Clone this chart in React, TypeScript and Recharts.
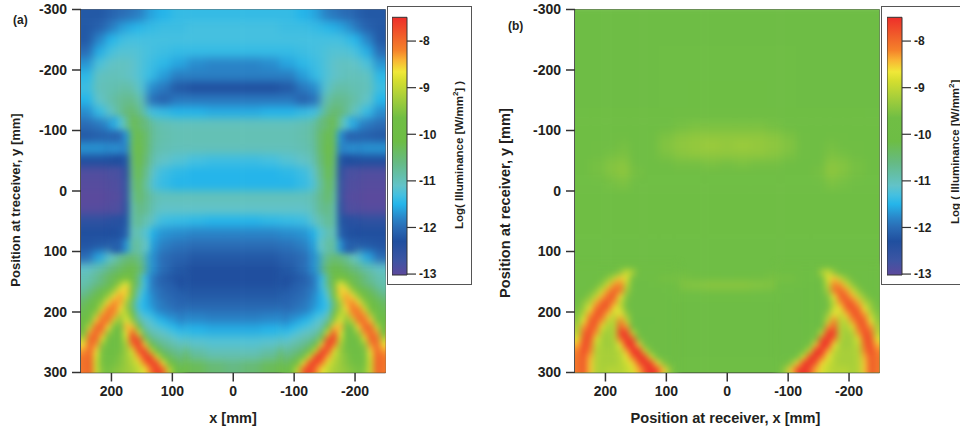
import { Bar, BarChart, ReferenceArea, Scatter, ScatterChart, XAxis, YAxis } from "recharts";

// log10 illuminance. The maps are mirror images about x = 0,
// so only the x >= 0 half is listed. Coarse grid for the whole map, finer ones for the neck and the arcs.
const X_TICKS = [200, 100, 0, -100, -200];
const Y_TICKS = [-300, -200, -100, 0, 100, 200, 300];
const BAR_TICKS = [-13, -12, -11, -10, -9, -8];

const A_COLS = [240, 220, 200, 188, 176, 168, 160, 150, 135, 115, 90, 60, 30, 0];
const A_ROWS = [-290, -270, -250, -230, -210, -190, -170, -150, -130, -110, -90, -70, -50, -30, -10, 10, 30, 50, 70, 90, 110, 130, 150, 170, 190, 210, 230, 250, 270, 290];
const A_VALUES = [
  [-12.2, -12.2, -12.1, -12, -12, -11.9, -11.9, -11.8, -11.6, -11.5, -11.4, -11.4, -11.4, -11.4],
  [-12.2, -12.1, -11.9, -11.7, -11.6, -11.55, -11.5, -11.45, -11.4, -11.35, -11.35, -11.3, -11.3, -11.3],
  [-12.2, -11.8, -11.5, -11.4, -11.3, -11.3, -11.3, -11.3, -11.3, -11.3, -11.3, -11.3, -11.3, -11.3],
  [-12, -11.55, -11.3, -11.2, -11.2, -11.2, -11.2, -11.25, -11.3, -11.35, -11.4, -11.4, -11.4, -11.4],
  [-11.7, -11.25, -11.1, -11.05, -11.05, -11.1, -11.15, -11.25, -11.35, -11.45, -11.6, -11.75, -11.8, -11.8],
  [-11.45, -11.05, -11, -11, -11.05, -11.1, -11.15, -11.25, -11.4, -11.65, -11.85, -11.85, -11.85, -11.85],
  [-11.35, -11, -10.95, -10.9, -10.85, -10.9, -11, -11.2, -11.75, -11.9, -12.2, -12.3, -12.3, -12.3],
  [-11.5, -11.1, -10.9, -10.75, -10.7, -10.65, -10.75, -11, -11.95, -12.1, -11.9, -11.9, -11.9, -11.9],
  [-11.75, -11.4, -11.1, -10.8, -10.55, -10.45, -10.5, -10.8, -11.3, -11.4, -11.5, -11.5, -11.55, -11.55],
  [-12, -11.9, -11.7, -11.3, -10.8, -10.3, -10.3, -10.55, -10.8, -10.95, -11, -11, -11, -11],
  [-12.2, -12.15, -12.1, -12, -11.7, -10.5, -10.15, -10.4, -10.75, -10.9, -10.95, -10.95, -10.95, -10.95],
  [-11.7, -11.7, -11.75, -11.8, -11.8, -10.6, -10.05, -10.4, -10.8, -10.95, -11, -11, -11, -11],
  [-12.3, -12.3, -12.3, -12.3, -12.2, -10.7, -10.1, -10.5, -10.9, -11.1, -11.2, -11.3, -11.35, -11.35],
  [-12.9, -12.9, -12.85, -12.8, -12.5, -10.9, -10.2, -10.6, -11.1, -11.35, -11.45, -11.5, -11.5, -11.5],
  [-12.95, -12.95, -12.9, -12.85, -12.6, -11, -10.3, -10.7, -11.2, -11.4, -11.5, -11.5, -11.5, -11.5],
  [-13, -13, -12.95, -12.9, -12.6, -11, -10.4, -10.6, -10.9, -11, -11, -11, -11, -11],
  [-12.95, -12.95, -12.9, -12.85, -12.5, -11, -10.6, -10.65, -10.95, -11.1, -11.1, -11.1, -11.1, -11.1],
  [-12.5, -12.5, -12.45, -12.4, -12.2, -11, -10.7, -10.85, -11.1, -11.35, -11.4, -11.45, -11.5, -11.5],
  [-12.3, -12.3, -12.3, -12.25, -12.1, -11.2, -10.9, -11.1, -11.5, -11.7, -11.75, -11.8, -11.8, -11.8],
  [-12.25, -12.2, -12.15, -12.1, -11.7, -10.9, -10.8, -11, -11.6, -11.85, -11.95, -12, -12, -12],
  [-12, -11.6, -11.1, -10.8, -10.6, -10.5, -10.5, -10.8, -11.7, -12, -12.1, -12.2, -12.2, -12.2],
  [-11.1, -10.9, -10.6, -10.4, -10.25, -10.2, -10.2, -10.6, -11.7, -12, -12.2, -12.3, -12.3, -12.3],
  [-10.9, -10.6, -10.3, -10.1, -9.6, -10, -10.2, -11, -11.8, -12.1, -12.2, -12.3, -12.3, -12.3],
  [-10.6, -10.1, -9.4, -8.9, -9.4, -10, -11, -11.5, -11.8, -12, -12.15, -12.2, -12.2, -12.2],
  [-10.2, -9.2, -8.4, -9, -9.6, -10.5, -11.3, -11.5, -11.75, -11.9, -12, -12.05, -12.05, -12.05],
  [-9.5, -8.2, -9, -9.6, -9.1, -10, -10.8, -11.1, -11.3, -11.6, -11.75, -11.8, -11.85, -11.85],
  [-8.4, -8.8, -10, -10, -8.9, -9, -9.4, -10.6, -10.9, -11.2, -11.4, -11.5, -11.55, -11.55],
  [-8.1, -9.5, -10, -9.9, -9.2, -8.3, -8, -8.6, -10, -10.7, -11, -11.15, -11.2, -11.2],
  [-8.2, -9.6, -9.8, -9.6, -9.2, -9, -8.8, -8.2, -8, -9.6, -10.3, -10.8, -10.95, -10.95],
  [-8.2, -9.5, -9.7, -9.5, -9.4, -9.3, -9.2, -9.1, -8.8, -8.2, -9.7, -10.3, -10.5, -10.6],
];

const NECK_COLS = [195, 185, 175, 165, 155, 145];
const NECK_ROWS = [-110, -90, -70, -50, -30, -10, 10, 30, 50, 70, 90];
const NECK_VALUES = [
  [-11.6, -11.2, -10.8, -10.3, -10.4, -10.6],
  [-12.1, -12, -11.7, -10.4, -10.2, -10.45],
  [-11.75, -11.8, -11.8, -10.4, -10.05, -10.45],
  [-12.3, -12.3, -12.2, -10.5, -10.1, -10.55],
  [-12.85, -12.8, -12.5, -10.6, -10.2, -10.7],
  [-12.9, -12.85, -12.6, -10.7, -10.3, -10.8],
  [-12.95, -12.9, -12.6, -10.8, -10.4, -10.7],
  [-12.9, -12.85, -12.5, -10.9, -10.6, -10.75],
  [-12.45, -12.4, -12.2, -10.9, -10.7, -10.95],
  [-12.3, -12.25, -12.1, -11, -10.9, -11.2],
  [-12.15, -12.1, -11.7, -10.85, -10.8, -11.1],
];

const ARC_COLS = [245, 235, 225, 215, 205, 195, 185, 175, 165, 155, 145, 135, 125, 115, 105, 95, 85];
const A_ARC_ROWS = [145, 155, 165, 175, 185, 195, 205, 215, 225, 235, 245, 255, 265, 275, 285, 295];
const A_ARC_VALUES = [
  [-11, -10.9, -10.8, -10.6, -10.4, -10.3, -10.1, -9.6, -10, -10.6, -11.4, -11.8, -12, -12.1, -12.2, -12.25, -12.3],
  [-10.9, -10.8, -10.6, -10.5, -10.3, -10, -9.2, -8.7, -9.6, -10.6, -11.3, -11.8, -12, -12.1, -12.1, -12.2, -12.3],
  [-10.8, -10.6, -10.4, -10.2, -9.9, -9.3, -8.6, -8.5, -9.6, -10.9, -11.4, -11.8, -11.9, -12, -12.1, -12.1, -12.2],
  [-10.6, -10.4, -10.2, -9.9, -9.3, -8.6, -8.3, -8.8, -10.1, -11.1, -11.5, -11.7, -11.9, -12, -12, -12.1, -12.1],
  [-10.4, -10.2, -9.9, -9.4, -8.6, -8.2, -8.4, -9.2, -10.5, -11.3, -11.5, -11.7, -11.8, -11.9, -12, -12, -12.1],
  [-10.3, -10.1, -9.7, -8.9, -8.2, -8.1, -8.6, -9.3, -10.4, -11.3, -11.5, -11.6, -11.8, -11.9, -11.9, -12, -12],
  [-10.2, -9.9, -9.2, -8.3, -8, -8.3, -9.1, -9, -10, -11, -11.3, -11.4, -11.6, -11.7, -11.8, -11.8, -11.9],
  [-10.1, -9.6, -8.5, -8, -8.1, -9, -9.5, -8.7, -9.4, -10.7, -11.1, -11.2, -11.4, -11.5, -11.6, -11.7, -11.8],
  [-10, -9, -8, -7.9, -8.6, -9.6, -9.7, -8.4, -8.5, -10.1, -10.9, -11.1, -11.2, -11.3, -11.4, -11.5, -11.6],
  [-9.6, -8.3, -7.9, -8.3, -9.3, -9.9, -9.7, -8.7, -7.8, -8.9, -10.5, -10.9, -11, -11.1, -11.2, -11.3, -11.4],
  [-9.1, -8, -7.9, -8.8, -9.7, -9.9, -9.7, -8.9, -7.6, -7.9, -9.5, -10.6, -10.8, -10.9, -11, -11.1, -11.2],
  [-8.6, -7.9, -8.3, -9.4, -9.9, -9.9, -9.7, -9.2, -8.2, -7.5, -8.5, -10, -10.5, -10.7, -10.8, -10.9, -11],
  [-8.3, -7.9, -8.6, -9.6, -9.8, -9.8, -9.6, -9.3, -8.8, -7.8, -7.6, -8.9, -10, -10.4, -10.6, -10.7, -10.8],
  [-8.1, -7.9, -8.8, -9.6, -9.7, -9.7, -9.5, -9.3, -9, -8.4, -7.6, -7.6, -8.8, -9.9, -10.3, -10.5, -10.6],
  [-8.1, -7.9, -8.9, -9.6, -9.7, -9.6, -9.5, -9.3, -9.1, -8.8, -8.2, -7.6, -7.7, -8.7, -9.8, -10.2, -10.4],
  [-8.1, -7.9, -8.9, -9.5, -9.6, -9.5, -9.4, -9.3, -9.2, -9, -8.7, -8.1, -7.6, -7.9, -9, -9.8, -10.2],
];

const B_COLS = [240, 210, 190, 170, 150, 125, 100, 75, 50, 25, 0];
const B_ROWS = [-270, -210, -150, -125, -105, -90, -75, -60, -45, -30, -15, 10, 50, 100, 125, 145, 155, 170, 200, 250, 290];
const B_VALUES = [
  [-9.95, -9.95, -9.95, -9.95, -9.95, -9.95, -9.95, -9.95, -9.95, -9.95, -9.95],
  [-9.95, -9.95, -9.95, -9.95, -9.95, -9.95, -9.9, -9.9, -9.9, -9.9, -9.9],
  [-9.95, -9.95, -9.95, -9.95, -9.95, -9.95, -9.9, -9.9, -9.85, -9.85, -9.85],
  [-9.9, -9.85, -9.85, -9.85, -9.85, -9.8, -9.75, -9.7, -9.7, -9.65, -9.65],
  [-9.85, -9.8, -9.75, -9.75, -9.8, -9.75, -9.65, -9.6, -9.55, -9.55, -9.55],
  [-9.85, -9.75, -9.7, -9.7, -9.8, -9.7, -9.55, -9.45, -9.4, -9.4, -9.4],
  [-9.85, -9.7, -9.65, -9.6, -9.8, -9.65, -9.5, -9.4, -9.35, -9.3, -9.35],
  [-9.8, -9.7, -9.6, -9.55, -9.75, -9.65, -9.55, -9.45, -9.4, -9.4, -9.4],
  [-9.75, -9.6, -9.5, -9.45, -9.65, -9.8, -9.7, -9.6, -9.6, -9.55, -9.6],
  [-9.7, -9.6, -9.5, -9.4, -9.6, -9.8, -9.75, -9.7, -9.65, -9.65, -9.7],
  [-9.8, -9.65, -9.6, -9.55, -9.7, -9.85, -9.8, -9.75, -9.75, -9.75, -9.75],
  [-9.85, -9.85, -9.85, -9.85, -9.85, -9.85, -9.85, -9.85, -9.85, -9.85, -9.85],
  [-9.85, -9.85, -9.85, -9.85, -9.85, -9.85, -9.85, -9.85, -9.85, -9.85, -9.85],
  [-9.9, -9.9, -9.9, -9.9, -9.9, -9.9, -9.9, -9.9, -9.9, -9.9, -9.9],
  [-9.9, -9.9, -9.9, -9.9, -9.9, -9.9, -9.9, -9.9, -9.9, -9.9, -9.9],
  [-9.9, -9.9, -9.9, -9.9, -9.9, -9.9, -9.6, -9.6, -9.7, -9.85, -9.9],
  [-9.9, -9.9, -9.9, -9.9, -9.9, -9.9, -9.75, -9.5, -9.45, -9.4, -9.4],
  [-9.9, -9.9, -9.9, -9.9, -9.95, -9.95, -9.9, -9.9, -9.9, -9.85, -9.85],
  [-9.9, -9.9, -9.9, -9.95, -10, -10, -10, -9.95, -9.95, -9.95, -9.95],
  [-9.9, -9.9, -9.9, -9.95, -10, -10, -10, -10, -9.95, -9.95, -9.95],
  [-9.9, -9.9, -9.9, -9.9, -9.9, -9.9, -9.9, -9.9, -9.9, -9.9, -9.9],
];
const B_ARC_ROWS = [125, 135, 145, 155, 165, 175, 185, 195, 205, 215, 225, 235, 245, 255, 265, 275, 285, 295];
const B_ARC_VALUES = [
  [-9.9, -9.9, -9.9, -9.9, -9.9, -9.9, -9.85, -9.8, -9.7, -9.7, -9.85, -9.9, -9.9, -9.9, -9.85, -9.85, -9.85],
  [-9.9, -9.9, -9.9, -9.9, -9.85, -9.8, -9.7, -9.4, -8.9, -9.2, -9.8, -9.9, -9.9, -9.85, -9.8, -9.8, -9.7],
  [-9.9, -9.9, -9.9, -9.8, -9.7, -9.4, -9, -8.5, -8.8, -9.6, -9.9, -9.9, -9.85, -9.7, -9.6, -9.6, -9.6],
  [-9.9, -9.9, -9.8, -9.7, -9.4, -8.9, -8.3, -8.2, -9, -9.8, -9.95, -9.95, -9.9, -9.85, -9.8, -9.75, -9.65],
  [-9.9, -9.8, -9.7, -9.4, -8.9, -8.3, -7.9, -8.1, -9.2, -9.9, -10, -10, -9.95, -9.95, -9.9, -9.9, -9.85],
  [-9.8, -9.7, -9.4, -9, -8.4, -7.9, -7.9, -8.7, -9.5, -9.95, -10, -10, -10, -10, -9.95, -9.95, -9.9],
  [-9.7, -9.4, -9.1, -8.4, -7.9, -7.8, -8.3, -9, -9.6, -10, -10, -10, -10, -10, -10, -9.95, -9.95],
  [-9.6, -9.3, -8.7, -8, -7.8, -8, -8.7, -8.9, -9.6, -10, -10, -10, -10, -10, -10, -10, -10],
  [-9.5, -9, -8.3, -7.8, -7.9, -8.5, -9, -8.6, -9.3, -10, -10.05, -10.05, -10, -10, -10, -10, -10],
  [-9.4, -8.7, -7.9, -7.8, -8.3, -9, -9.1, -8.2, -9, -9.9, -10.1, -10.1, -10.1, -10.05, -10, -10, -10],
  [-9.2, -8.3, -7.8, -8, -8.8, -9.2, -9.1, -7.9, -8.3, -9.7, -10, -10.1, -10.05, -10.05, -10, -10, -10],
  [-9.1, -8, -7.7, -8.3, -9.1, -9.3, -9.1, -7.6, -7.6, -9, -9.9, -10, -10.05, -10, -10, -10, -10],
  [-8.8, -7.8, -7.8, -8.8, -9.2, -9.3, -9.1, -8.1, -7.5, -7.9, -9.5, -9.9, -10, -10, -10, -10, -10],
  [-8.4, -7.7, -8, -9, -9.2, -9.3, -9.2, -8.7, -7.6, -7.5, -8.5, -9.6, -9.9, -10, -10, -10, -10],
  [-8.2, -7.7, -8.2, -9.1, -9.2, -9.2, -9.2, -9, -8.4, -7.5, -7.5, -8.9, -9.6, -9.9, -10, -10, -10],
  [-8.1, -7.8, -8.4, -9.1, -9.2, -9.2, -9.2, -9.1, -8.7, -8.1, -7.5, -7.6, -8.8, -9.6, -9.9, -10, -10],
  [-8.1, -7.8, -8.5, -9.1, -9.2, -9.2, -9.2, -9.1, -8.9, -8.6, -7.9, -7.5, -7.6, -8.6, -9.4, -9.8, -9.9],
  [-8.1, -7.8, -8.5, -9.1, -9.2, -9.1, -9.1, -9.1, -9, -8.8, -8.4, -7.8, -7.5, -7.7, -8.5, -9.3, -9.7],
];

const COLOR_LEVELS = [-13, -12.7, -12.3, -12, -11.8, -11.5, -11.3, -11.1, -10.6, -10.15, -9.65, -9.2, -8.85, -8.66, -8.4, -8.2, -7.9, -7.49];
const COLOR_VALUES = ["#5b4a9d", "#3c55a3", "#204f9f", "#2a6cb5", "#2a85c8", "#25b5ea", "#45c0e0", "#62c3c8", "#66ba82", "#6dbd45", "#70be44", "#a8cf3a", "#d5de2f", "#f0e838", "#f9b233", "#f5822a", "#f05f2a", "#ee2e2a"];

const FONT = "Liberation Sans";
const INK = "#231f20";
const PLOT_W = 304.5;
const PLOT_H = 363;
const BAR_DOMAIN: [number, number] = [-13.02, -7.49];

type HeatCell = { x: number; y: number; v: number; xLo: number; xHi: number; yLo: number; yHi: number };

function hexRgb(hex: string) {
  return [1, 3, 5].map((i) => parseInt(hex.slice(i, i + 2), 16));
}

function colorFor(v: number) {
  if (v <= COLOR_LEVELS[0]) return COLOR_VALUES[0];
  for (let i = 1; i < COLOR_LEVELS.length; i++) {
    if (v <= COLOR_LEVELS[i]) {
      const t = (v - COLOR_LEVELS[i - 1]) / (COLOR_LEVELS[i] - COLOR_LEVELS[i - 1]);
      const a = hexRgb(COLOR_VALUES[i - 1]);
      const b = hexRgb(COLOR_VALUES[i]);
      return `rgb(${a.map((c, k) => Math.round(c + (b[k] - c) * t)).join(",")})`;
    }
  }
  return COLOR_VALUES[COLOR_VALUES.length - 1];
}

// turns a listed half map into mirrored cells, each cell spanning halfway to its neighbours.
// grids that reach the plot edge get their outer cells stretched so the blur doesn't fade there
function buildCells(cols: number[], rows: number[], values: number[][], reachesEdge = true) {
  const cells: HeatCell[] = [];
  const rowPad = Math.abs(rows[1] - rows[0]) / 2;
  const colPad = Math.abs(cols[1] - cols[0]) / 2;
  rows.forEach((y, r) => {
    const yLo = r === 0 ? (y < -260 ? y - 40 : y - rowPad) : (y + rows[r - 1]) / 2;
    const yHi = r === rows.length - 1 ? (reachesEdge ? y + 40 : y + rowPad) : (y + rows[r + 1]) / 2;
    cols.forEach((x, c) => {
      const xHi = c === 0 ? (reachesEdge ? x + 40 : x + colPad) : (x + cols[c - 1]) / 2;
      const xLo = c === cols.length - 1 ? (x === 0 ? -xHi : x - colPad) : (x + cols[c + 1]) / 2;
      const v = values[r][c];
      cells.push({ x, y, v, xLo, xHi, yLo, yHi });
      if (x !== 0) cells.push({ x: -x, y, v, xLo: -xHi, xHi: -xLo, yLo, yHi });
    });
  });
  return cells;
}

const HeatRect = (props: any) => {
  const { cx, cy, payload } = props;
  const kx = PLOT_W / 500;
  const ky = PLOT_H / 600;
  return (
    <rect
      x={cx - (payload.xHi - payload.x) * kx - 0.3}
      y={cy - (payload.y - payload.yLo) * ky - 0.3}
      width={(payload.xHi - payload.xLo) * kx + 0.6}
      height={(payload.yHi - payload.yLo) * ky + 0.6}
      fill={colorFor(payload.v)}
    />
  );
};

type MapProps = {
  id: string;
  left: number;
  cells: HeatCell[];
  arcCells: HeatCell[];
  panel: string;
  panelX: number;
  panelY: number;
  xTitle: string;
  xTitleX: number;
  xTitleSize: number;
  yTitle: string;
  yTitleX: number;
  yTitleY: number;
  yTitleSize: number;
};

const MapPanel = ({ id, left, cells, arcCells, panel, panelX, panelY, xTitle, xTitleX, xTitleSize, yTitle, yTitleX, yTitleY, yTitleSize }: MapProps) => (
  <div style={{ position: "absolute", left, top: 0 }}>
    <ScatterChart width={387} height={430} margin={{ top: 9.5, right: 1.5, bottom: 27.5, left: 31 }}>
      <defs>
        <clipPath id={`clip-${id}`}>
          <rect x={82} y={10.5} width={PLOT_W - 2} height={PLOT_H - 2} />
        </clipPath>
      </defs>
      <XAxis
        type="number"
        dataKey="x"
        domain={[-250, 250]}
        reversed
        allowDataOverflow
        ticks={X_TICKS}
        height={30}
        tickSize={9}
        tickMargin={5}
        stroke="#333"
        strokeWidth={1.5}
        tick={{ fontSize: 14, fontWeight: 700, fill: INK, fontFamily: FONT }}
      />
      <YAxis
        type="number"
        dataKey="y"
        domain={[-300, 300]}
        reversed
        allowDataOverflow
        ticks={Y_TICKS}
        width={50}
        tickSize={9}
        tickMargin={5}
        stroke="#333"
        strokeWidth={1.5}
        tick={{ fontSize: 14, fontWeight: 700, fill: INK, fontFamily: FONT }}
      />
      <Scatter
        data={cells}
        isAnimationActive={false}
        className="heat-coarse"
        style={{ clipPath: `url(#clip-${id})` }}
        shape={HeatRect}
      />
      <Scatter
        data={arcCells}
        isAnimationActive={false}
        className="heat-fine"
        style={{ clipPath: `url(#clip-${id})` }}
        shape={HeatRect}
      />
      <ReferenceArea x1={-250} x2={250} y1={-300} y2={300} fill="none" stroke="#666" strokeWidth={1} />
      <text x={panelX} y={panelY} fontSize={12} fontWeight={700} fill={INK} fontFamily={FONT}>
        {panel}
      </text>
      <text x={xTitleX} y={423} fontSize={xTitleSize} fontWeight={700} fill={INK} fontFamily={FONT} textAnchor="middle">
        {xTitle}
      </text>
      <text
        transform={`rotate(-90 ${yTitleX} ${yTitleY})`}
        x={yTitleX}
        y={yTitleY}
        fontSize={yTitleSize}
        fontWeight={700}
        fill={INK}
        fontFamily={FONT}
        textAnchor="middle"
      >
        {yTitle}
      </text>
    </ScatterChart>
  </div>
);

type ColorBarProps = { id: string; boxLeft: number; boxWidth: number; barLeft: number; title: string; tail: string; titleX: number; titleY: number };

const ColorBar = ({ id, boxLeft, boxWidth, barLeft, title, tail, titleX, titleY }: ColorBarProps) => (
  <>
    <div
      style={{
        position: "absolute",
        left: boxLeft,
        top: 6,
        width: boxWidth,
        height: 279,
        boxSizing: "border-box",
        border: "1.5px solid #555",
        background: "#fff",
      }}
    />
    <div style={{ position: "absolute", left: barLeft, top: 0 }}>
      <BarChart
        width={80}
        height={290}
        data={[{ name: "scale", range: BAR_DOMAIN }]}
        margin={{ top: 17.3, right: 30, bottom: 15, left: 0 }}
        barCategoryGap={0}
      >
        <defs>
          <linearGradient id={`grad-${id}`} x1="0" y1="1" x2="0" y2="0">
            {COLOR_LEVELS.map((level, i) => (
              <stop
                key={level}
                offset={(level - BAR_DOMAIN[0]) / (BAR_DOMAIN[1] - BAR_DOMAIN[0])}
                stopColor={COLOR_VALUES[i]}
              />
            ))}
          </linearGradient>
        </defs>
        <XAxis dataKey="name" hide />
        <YAxis
          type="number"
          orientation="right"
          domain={BAR_DOMAIN}
          ticks={BAR_TICKS}
          width={35}
          tickSize={9}
          tickMargin={3}
          axisLine={false}
          tickLine={{ stroke: "#333", strokeWidth: 1.2 }}
          tick={{ fontSize: 12, fontWeight: 700, fill: INK, fontFamily: FONT }}
        />
        <Bar dataKey="range" fill={`url(#grad-${id})`} stroke="#333" strokeWidth={1} isAnimationActive={false} />
        <text
          transform={`rotate(-90 ${titleX} ${titleY})`}
          x={titleX}
          y={titleY}
          fontSize={11.5}
          fontWeight={700}
          fill={INK}
          fontFamily={FONT}
        >
          {title}
          <tspan dy={-5} fontSize={8}>2</tspan>
          <tspan dy={5}>{tail}</tspan>
        </text>
      </BarChart>
    </div>
  </>
);

const aCells = buildCells(A_COLS, A_ROWS, A_VALUES);
const aFineCells = [...buildCells(NECK_COLS, NECK_ROWS, NECK_VALUES, false), ...buildCells(ARC_COLS, A_ARC_ROWS, A_ARC_VALUES)];
const bCells = buildCells(B_COLS, B_ROWS, B_VALUES);
const bFineCells = buildCells(ARC_COLS, B_ARC_ROWS, B_ARC_VALUES);

export default function App() {
  return (
    <div style={{ position: "absolute", left: 0, top: 0, width: 960, height: 430, overflow: "hidden", background: "#fff" }}>
      <style>{`.heat-coarse { filter: blur(4.2px); } .heat-fine { filter: blur(3px); }`}</style>
      <MapPanel
        id="a"
        left={0}
        cells={aCells}
        arcCells={aFineCells}
        panel="(a)"
        panelX={13}
        panelY={24}
        xTitle="x [mm]"
        xTitleX={233}
        xTitleSize={14.5}
        yTitle="Position at treceiver, y [mm]"
        yTitleX={20}
        yTitleY={200}
        yTitleSize={13}
      />
      <MapPanel
        id="b"
        left={494}
        cells={bCells}
        arcCells={bFineCells}
        panel="(b)"
        panelX={14}
        panelY={30}
        xTitle="Position at receiver, x [mm]"
        xTitleX={231.5}
        xTitleSize={14.6}
        yTitle="Position at receiver, y [mm]"
        yTitleX={16}
        yTitleY={203}
        yTitleSize={14.6}
      />
      <ColorBar id="a" boxLeft={387} boxWidth={85} barLeft={392.3} title="Log( Illuminance [W/mm" tail="] )" titleX={71} titleY={229} />
      <ColorBar id="b" boxLeft={881} boxWidth={90} barLeft={886.7} title="Log ( Illuminance [W/mm" tail="]" titleX={72} titleY={224} />
    </div>
  );
}
